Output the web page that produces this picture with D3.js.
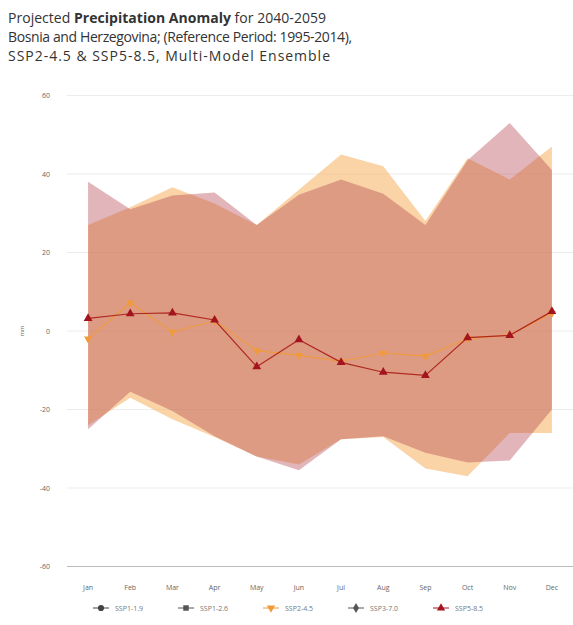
<!DOCTYPE html>
<html><head><meta charset="utf-8">
<script src="https://cdn.jsdelivr.net/npm/d3@7"></script>
<style>
body{margin:0;background:#fff;font-family:"Open Sans",sans-serif;}
svg{display:block;}
</style></head>
<body><svg id="c" width="573" height="625"></svg>
<script>
const months = ["Jan","Feb","Mar","Apr","May","Jun","Jul","Aug","Sep","Oct","Nov","Dec"];
const yTicks = [-60,-40,-20,0,20,40,60];
const ssp245Median = [-2, 7.2, -0.3, 2.6, -5, -6.2, -7.7, -5.6, -6.4, -2, -1, 4.5];
const ssp245Upper  = [27, 31.5, 36.6, 32.5, 27, 36, 45, 42, 28, 44, 38.6, 47];
const ssp245Lower  = [-24, -17, -22.5, -27, -32, -34, -27.6, -27, -35, -37, -26, -26];
const ssp585Median = [3.2, 4.4, 4.6, 2.8, -9.1, -2.2, -8, -10.5, -11.3, -1.7, -1.1, 5];
const ssp585Upper  = [38, 31, 34.5, 35.3, 27, 34.7, 38.6, 35, 27, 43.5, 53, 41];
const ssp585Lower  = [-25, -15.5, -20.4, -26.8, -32, -35.5, -27.6, -26.8, -31, -33.5, -33, -20];
const legendLabels = ["SSP1-1.9","SSP1-2.6","SSP2-4.5","SSP3-7.0","SSP5-8.5"];

const svg = d3.select("#c");
// title
const title = svg.append("text").attr("x",8).attr("fill","#333").style("font-size","14px");
const l1 = title.append("tspan").attr("x",8).attr("y",23).attr("textLength",318).attr("lengthAdjust","spacing");
l1.append("tspan").text("Projected ");
l1.append("tspan").attr("font-weight","bold").text("Precipitation");
l1.append("tspan").text(" ");
l1.append("tspan").attr("font-weight","bold").text("Anomaly");
l1.append("tspan").text(" for 2040-2059");
title.append("tspan").attr("x",8).attr("y",42).attr("textLength",344).attr("lengthAdjust","spacing")
  .text("Bosnia and Herzegovina; (Reference Period: 1995-2014),");
title.append("tspan").attr("x",8).attr("y",61).attr("textLength",322).attr("lengthAdjust","spacing")
  .text("SSP2-4.5 & SSP5-8.5, Multi-Model Ensemble");

const x = d3.scaleBand().domain(months).range([67,573]);
const cx = m => x(m) + x.bandwidth()/2;
const y = d3.scaleLinear().domain([-60,60]).range([566.5,95.5]);

// grid
svg.append("g").selectAll("line").data(yTicks.filter(t=>t>-60)).join("line")
  .attr("x1",67).attr("x2",573).attr("y1",d=>y(d)).attr("y2",d=>y(d))
  .attr("stroke","#ececec").attr("stroke-width",1);
// y labels
svg.append("g").selectAll("text").data(yTicks).join("text")
  .attr("x",50).attr("y",d=>y(d)+2.5).attr("text-anchor","end")
  .attr("fill","#666").style("font-size","7px").text(d=>d);
svg.append("text").attr("transform",`translate(24,${y(0)}) rotate(-90)`)
  .attr("text-anchor","middle").attr("fill","#666").style("font-size","6px").text("mm");

const area = (lo,hi) => d3.area().x((d,i)=>cx(months[i])).y0((d,i)=>y(lo[i])).y1((d,i)=>y(hi[i]))(months);
svg.append("path").attr("d",area(ssp245Lower,ssp245Upper)).attr("fill","rgb(245,170,80)").attr("fill-opacity",0.5);
svg.append("path").attr("d",area(ssp585Lower,ssp585Upper)).attr("fill","rgb(180,70,80)").attr("fill-opacity",0.4);

// x axis line
svg.append("line").attr("x1",67).attr("x2",573).attr("y1",y(-60)).attr("y2",y(-60)).attr("stroke","#bbb").attr("stroke-width",1.2);
svg.append("g").selectAll("text").data(months).join("text")
  .attr("x",d=>cx(d)).attr("y",590).attr("text-anchor","middle")
  .attr("fill","#666").style("font-size","7px").text(d=>d);

const line = vals => d3.line().x((d,i)=>cx(months[i])).y((d,i)=>y(vals[i]))(months);
const c245 = "#f09a3a", c585 = "#a3141f";
svg.append("path").attr("d",line(ssp245Median)).attr("fill","none").attr("stroke",c245).attr("stroke-width",1.1);
svg.append("g").selectAll("path").data(ssp245Median).join("path")
  .attr("d",d3.symbol(d3.symbolTriangle,28)).attr("transform",(d,i)=>`translate(${cx(months[i])},${y(d)}) rotate(180)`)
  .attr("fill",c245);
svg.append("path").attr("d",line(ssp585Median)).attr("fill","none").attr("stroke","#b02a1e").attr("stroke-width",1.2);
svg.append("g").selectAll("path").data(ssp585Median).join("path")
  .attr("transform",(d,i)=>`translate(${cx(months[i])},${y(d)})`)
  .attr("d",d3.symbol(d3.symbolTriangle,34)).attr("fill",c585);

// legend
const legSyms = [d3.symbolCircle,d3.symbolSquare,d3.symbolTriangle,d3.symbolDiamond,d3.symbolTriangle];
const legCols = ["#444","#555",c245,"#555",c585];
const legX = [101,186,271,356,441];
const lg = svg.append("g").selectAll("g").data(legendLabels).join("g")
  .attr("transform",(d,i)=>`translate(${legX[i]},608)`);
lg.append("line").attr("x1",-8).attr("x2",8).attr("stroke",(d,i)=>legCols[i]).attr("stroke-width",1);
lg.append("path").attr("d",(d,i)=>d3.symbol(legSyms[i],30)()).attr("fill",(d,i)=>legCols[i])
  .attr("transform",(d,i)=>i===2?"rotate(180)":"");
lg.append("text").attr("x",14).attr("y",2.5).attr("fill","#777").style("font-size","7px").text(d=>d);
</script></body></html>
